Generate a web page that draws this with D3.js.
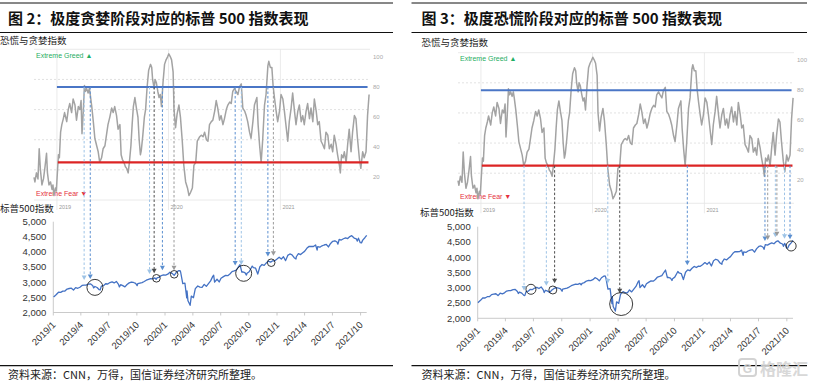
<!DOCTYPE html>
<html>
<head>
<meta charset="utf-8">
<script src="https://cdn.jsdelivr.net/npm/d3@7"></script>
<style>
body { margin: 0; background: #fff; }
svg text { font-family: "Liberation Sans", Arial, sans-serif; }
svg text.cjk { font-family: "Noto Sans CJK SC", "Noto Sans", sans-serif; }
</style>
</head>
<body>
<div id="chart"></div>
<script>
// CNN fear & greed index
var fearGreed = [
["2018-10-18",15],["2018-10-21",12],["2018-10-26",18],["2018-10-31",14],["2018-11-04",34],["2018-11-08",20],["2018-11-13",10],["2018-11-18",14],["2018-11-23",22],["2018-11-28",31],["2018-12-01",18],["2018-12-06",10],["2018-12-11",12],["2018-12-16",7],["2018-12-19",10],["2018-12-22",3],["2018-12-27",8],["2018-12-30",6],
["2019-01-03",20],["2019-01-06",30],["2019-01-09",28],["2019-01-13",45],["2019-01-17",50],["2019-01-22",54],["2019-01-26",58],["2019-02-02",52],["2019-02-07",60],["2019-02-12",64],["2019-02-18",58],["2019-02-23",67],["2019-03-01",63],["2019-03-06",53],["2019-03-12",62],["2019-03-17",60],["2019-03-21",66],["2019-03-24",44],["2019-03-28",58],["2019-04-01",76],["2019-04-04",72],["2019-04-08",74],["2019-04-13",71],["2019-04-17",74],["2019-04-20",70],["2019-04-25",62],["2019-04-30",52],["2019-05-05",41],["2019-05-11",36],["2019-05-16",32],["2019-05-21",25],["2019-05-27",28],["2019-06-01",34],["2019-06-07",36],["2019-06-12",43],["2019-06-17",50],["2019-06-23",55],["2019-06-29",61],["2019-07-04",58],["2019-07-09",62],["2019-07-15",56],["2019-07-20",47],["2019-07-26",50],["2019-07-30",30],["2019-08-03",27],["2019-08-08",25],["2019-08-13",22],["2019-08-17",21],["2019-08-22",18],["2019-08-26",25],["2019-08-31",36],["2019-09-04",50],["2019-09-08",62],["2019-09-13",68],["2019-09-18",61],["2019-09-23",55],["2019-09-27",40],["2019-10-01",30],["2019-10-04",33],["2019-10-09",43],["2019-10-14",55],["2019-10-18",60],["2019-10-23",75],["2019-10-28",86],["2019-11-03",90],["2019-11-07",88],["2019-11-10",80],["2019-11-15",74],["2019-11-18",80],["2019-11-22",78],["2019-11-27",72],["2019-12-01",68],["2019-12-05",70],["2019-12-09",62],["2019-12-14",78],["2019-12-19",90],["2019-12-24",93],["2019-12-29",95],
["2020-01-02",97],["2020-01-07",95],["2020-01-11",93],["2020-01-16",85],["2020-01-19",60],["2020-01-24",48],["2020-01-29",57],["2020-02-04",63],["2020-02-09",55],["2020-02-15",39],["2020-02-20",23],["2020-02-26",12],["2020-03-03",8],["2020-03-08",3],["2020-03-13",5],["2020-03-19",8],["2020-03-24",23],["2020-03-30",25],["2020-04-04",39],["2020-04-12",42],["2020-04-17",43],["2020-04-23",42],["2020-04-28",45],["2020-05-04",40],["2020-05-09",39],["2020-05-14",50],["2020-05-20",52],["2020-05-25",53],["2020-05-31",59],["2020-06-05",66],["2020-06-10",61],["2020-06-16",53],["2020-06-21",56],["2020-06-27",50],["2020-07-02",54],["2020-07-08",60],["2020-07-13",63],["2020-07-19",65],["2020-07-24",64],["2020-07-29",72],["2020-08-04",74],["2020-08-09",72],["2020-08-15",70],["2020-08-20",75],["2020-08-26",77],["2020-08-31",61],["2020-09-06",59],["2020-09-11",56],["2020-09-16",52],["2020-09-22",45],["2020-09-27",41],["2020-10-03",52],["2020-10-08",63],["2020-10-16",68],["2020-10-20",50],["2020-10-25",36],["2020-10-30",25],["2020-11-04",40],["2020-11-10",63],["2020-11-15",70],["2020-11-21",89],["2020-11-24",92],["2020-11-29",88],["2020-12-04",88],["2020-12-08",76],["2020-12-13",67],["2020-12-18",59],["2020-12-23",52],["2020-12-29",59],
["2021-01-03",70],["2021-01-09",67],["2021-01-14",59],["2021-01-20",48],["2021-01-25",39],["2021-01-30",52],["2021-02-05",61],["2021-02-10",71],["2021-02-16",59],["2021-02-21",50],["2021-02-27",59],["2021-03-04",63],["2021-03-10",52],["2021-03-15",56],["2021-03-20",50],["2021-03-26",59],["2021-03-31",64],["2021-04-06",54],["2021-04-11",61],["2021-04-17",52],["2021-04-22",67],["2021-04-28",59],["2021-05-03",50],["2021-05-08",52],["2021-05-14",39],["2021-05-19",37],["2021-05-25",34],["2021-05-30",45],["2021-06-05",43],["2021-06-10",34],["2021-06-16",37],["2021-06-21",32],["2021-06-26",43],["2021-07-02",37],["2021-07-07",30],["2021-07-13",23],["2021-07-16",18],["2021-07-20",30],["2021-07-25",28],["2021-07-29",32],["2021-08-04",25],["2021-08-09",37],["2021-08-14",47],["2021-08-20",32],["2021-08-25",45],["2021-08-31",56],["2021-09-05",54],["2021-09-10",41],["2021-09-16",28],["2021-09-21",21],["2021-09-27",32],["2021-10-02",28],["2021-10-08",32],["2021-10-13",56],["2021-10-18",70]
];

// S&P 500 close
var sp500 = [
["2019-01-02",2510],["2019-01-04",2532],["2019-01-11",2596],["2019-01-18",2671],["2019-01-25",2665],["2019-02-01",2707],["2019-02-08",2708],["2019-02-15",2776],["2019-02-22",2793],["2019-03-01",2804],["2019-03-08",2743],["2019-03-15",2822],["2019-03-22",2800],["2019-03-29",2834],["2019-04-05",2893],["2019-04-12",2907],["2019-04-18",2905],["2019-04-26",2940],["2019-05-03",2946],["2019-05-10",2881],["2019-05-13",2812],["2019-05-17",2860],["2019-05-24",2826],["2019-05-31",2752],["2019-06-03",2744],["2019-06-07",2873],["2019-06-14",2887],["2019-06-21",2950],["2019-06-28",2942],["2019-07-05",2990],["2019-07-12",3014],["2019-07-19",2977],["2019-07-26",3026],["2019-08-02",2932],["2019-08-05",2844],["2019-08-09",2919],["2019-08-16",2889],["2019-08-23",2847],["2019-08-30",2926],["2019-09-06",2979],["2019-09-13",3007],["2019-09-20",2992],["2019-09-27",2962],["2019-10-02",2887],["2019-10-04",2952],["2019-10-11",2970],["2019-10-18",2986],["2019-10-25",3023],["2019-11-01",3067],["2019-11-08",3093],["2019-11-15",3120],["2019-11-22",3110],["2019-11-29",3141],["2019-12-03",3093],["2019-12-06",3146],["2019-12-13",3169],["2019-12-20",3221],["2019-12-27",3240],
["2020-01-03",3235],["2020-01-10",3265],["2020-01-17",3330],["2020-01-24",3295],["2020-01-31",3226],["2020-02-07",3328],["2020-02-14",3380],["2020-02-19",3386],["2020-02-21",3338],["2020-02-28",2954],["2020-03-06",2972],["2020-03-12",2481],["2020-03-13",2711],["2020-03-16",2386],["2020-03-20",2305],["2020-03-23",2237],["2020-03-27",2541],["2020-04-03",2489],["2020-04-09",2790],["2020-04-17",2875],["2020-04-24",2837],["2020-05-01",2831],["2020-05-08",2930],["2020-05-15",2864],["2020-05-22",2955],["2020-05-29",3044],["2020-06-05",3194],["2020-06-08",3232],["2020-06-11",3002],["2020-06-19",3098],["2020-06-26",3009],["2020-07-02",3130],["2020-07-10",3185],["2020-07-17",3225],["2020-07-24",3216],["2020-07-31",3271],["2020-08-07",3351],["2020-08-14",3373],["2020-08-21",3397],["2020-08-28",3508],["2020-09-02",3580],["2020-09-08",3332],["2020-09-11",3341],["2020-09-18",3319],["2020-09-23",3237],["2020-09-25",3298],["2020-10-02",3348],["2020-10-09",3477],["2020-10-12",3534],["2020-10-16",3484],["2020-10-23",3465],["2020-10-30",3270],["2020-11-06",3510],["2020-11-13",3585],["2020-11-20",3558],["2020-11-27",3638],["2020-12-04",3699],["2020-12-11",3663],["2020-12-18",3709],["2020-12-24",3703],["2020-12-31",3756],
["2021-01-08",3825],["2021-01-15",3768],["2021-01-22",3841],["2021-01-29",3714],["2021-02-05",3887],["2021-02-12",3934],["2021-02-19",3907],["2021-02-26",3811],["2021-03-04",3768],["2021-03-05",3842],["2021-03-12",3943],["2021-03-19",3913],["2021-03-26",3975],["2021-04-01",4020],["2021-04-09",4129],["2021-04-16",4185],["2021-04-23",4180],["2021-04-30",4181],["2021-05-07",4233],["2021-05-12",4063],["2021-05-14",4174],["2021-05-21",4156],["2021-05-28",4204],["2021-06-04",4230],["2021-06-11",4247],["2021-06-18",4166],["2021-06-25",4281],["2021-07-02",4352],["2021-07-09",4370],["2021-07-16",4327],["2021-07-19",4258],["2021-07-23",4412],["2021-07-30",4395],["2021-08-06",4437],["2021-08-13",4468],["2021-08-20",4442],["2021-08-27",4509],["2021-09-02",4537],["2021-09-10",4459],["2021-09-17",4433],["2021-09-20",4358],["2021-09-24",4455],["2021-09-30",4308],["2021-10-04",4300],["2021-10-08",4391],["2021-10-15",4471],["2021-10-21",4549]
];

var fgTicks = [20, 40, 60, 80, 100];
var fgGrid = [0, 20, 40, 60, 80, 100];
var yearTicks = ["2019", "2020", "2021"];
var spTicks = [2000, 2500, 3000, 3500, 4000, 4500, 5000];
var quarterTicks = ["2019-01-01","2019-04-01","2019-07-01","2019-10-01","2020-01-01","2020-04-01","2020-07-01","2020-10-01","2021-01-01","2021-04-01","2021-07-01","2021-10-01"];

var greedLevel = 75, fearLevel = 25;

// marked days: dashed arrows from the index down to the S&P line
var greedArrows = [
["2019-03-31","light"],["2019-04-20","blue"],["2019-10-31","light"],["2019-11-15","dark"],["2019-12-12","blue"],
["2020-01-19","gray"],["2020-08-06","blue"],["2020-08-26","light"],["2020-11-21","blue"],["2020-12-09","gray"]
];
var fearArrows = [
["2019-05-22","light"],["2019-08-03","light"],["2019-08-30","dark"],["2020-02-20","light"],["2020-03-30","dark"],
["2020-11-06","blue"],["2021-07-18","blue"],["2021-07-27","gray"],["2021-08-21","light"],["2021-08-26","gray"],
["2021-09-20","light"],["2021-10-08","blue"]
];
// circled spots on the S&P line: date, index level, radius
var greedCircles = [["2019-05-17",2830,8],["2019-12-04",3130,3.8],["2020-01-31",3262,3.8],["2020-09-14",3295,8],["2020-12-13",3645,3.8]];
var fearCircles = [["2019-06-23",2950,5],["2019-09-02",2927,4],["2020-04-11",2468,11.5],["2021-10-15",4368,5]];

var arrowColor = { light: "#9dc3e6", blue: "#5b8fd0", dark: "#4d4d4d", gray: "#9a9a9a" };

var panels = [
  { title: "图 2：极度贪婪阶段对应的标普 500 指数表现", rule: [0, 393], titleX: 8, subY: 44, subX: 0,
    fgX: [34, 370], fgY: [200, 49.3], spX: [53.3, 366.7], spY: [312.5, 221.7], spLabelX: 0, spLabelY: 212,
    level: greedLevel, arrows: greedArrows, circles: greedCircles, sourceX: 8 },
  { title: "图 3：极度恐慌阶段对应的标普 500 指数表现", rule: [411.5, 807], titleX: 421.5, subY: 45.5, subX: 421.5,
    fgX: [458, 794], fgY: [203.3, 52.7], spX: [477.7, 793], spY: [318.3, 226.7], spLabelX: 420, spLabelY: 216,
    level: fearLevel, arrows: fearArrows, circles: fearCircles, sourceX: 421.5 }
];

var parse = d3.timeParse("%Y-%m-%d");
var fmtQ = d3.timeFormat("%Y/%-m");
var fmtN = d3.format(",");
var fgData = fearGreed.map(function(d) { return { date: parse(d[0]), value: d[1] }; });
var spData = sp500.map(function(d) { return { date: parse(d[0]), value: d[1] }; });
var bisect = d3.bisector(function(d) { return d.date; }).left;

function spAt(date) {
  var i = bisect(spData, date);
  if (i <= 0) return spData[0].value;
  if (i >= spData.length) return spData[spData.length - 1].value;
  var a = spData[i - 1], b = spData[i];
  var t = (date - a.date) / (b.date - a.date);
  return a.value + t * (b.value - a.value);
}

var svg = d3.select("#chart").append("svg")
  .attr("width", 813).attr("height", 386);

panels.forEach(drawPanel);

function drawPanel(p) {
  var g = svg.append("g");

  // title block
  [3, 32.5, 365.7].forEach(function(y, i) {
    g.append("line")
      .attr("x1", p.rule[0]).attr("x2", p.rule[1])
      .attr("y1", y).attr("y2", y)
      .attr("stroke", "#111").attr("stroke-width", i == 2 ? 1.3 : 1);
  });
  g.append("text").attr("class", "cjk")
    .attr("x", p.titleX).attr("y", 23.5)
    .style("font-size", "15px").style("font-weight", "bold").attr("fill", "#111")
    .text(p.title);
  g.append("text").attr("class", "cjk")
    .attr("x", p.subX).attr("y", p.subY)
    .style("font-size", "9.5px").attr("fill", "#222")
    .text("恐慌与贪婪指数");

  // ---- fear & greed chart
  var fx = d3.scaleTime()
    .domain([parse("2018-10-18"), parse("2021-10-21")])
    .range(p.fgX);
  var fy = d3.scaleLinear().domain([0, 100]).range(p.fgY);

  yearTicks.forEach(function(yr) {
    var x = fx(parse(yr + "-01-01"));
    g.append("line")
      .attr("x1", x).attr("x2", x).attr("y1", fy(100)).attr("y2", fy(0) + 10)
      .attr("stroke", "#e6e6e6").attr("stroke-width", 0.8);
    g.append("text")
      .attr("x", x + 2).attr("y", fy(0) + 8.5)
      .style("font-size", "5.5px").attr("fill", "#999")
      .text(yr);
  });

  g.selectAll(".fggrid").data(fgGrid).enter().append("line")
    .attr("x1", p.fgX[0]).attr("x2", p.fgX[1])
    .attr("y1", function(d) { return fy(d); }).attr("y2", function(d) { return fy(d); })
    .attr("stroke", function(d) { return d % 100 == 0 ? "#e4e4e4" : "#dadada"; })
    .attr("stroke-width", 0.8)
    .attr("stroke-dasharray", function(d) { return d % 100 == 0 ? null : "2,2"; });

  g.selectAll(".fgtick").data(fgTicks).enter().append("text")
    .attr("x", p.fgX[1] + 3).attr("y", function(d) { return fy(d) + 9.3; })
    .style("font-size", "6px").attr("fill", "#aaa")
    .text(function(d) { return d; });

  g.append("text")
    .attr("x", p.fgX[0] + 2).attr("y", fy(100) + 8.5)
    .style("font-size", "7px").attr("fill", "#1fae63")
    .text("Extreme Greed \u25B2");
  g.append("text")
    .attr("x", p.fgX[0] + 2).attr("y", fy(0) - 4.5)
    .style("font-size", "7px").attr("fill", "#e5323e")
    .text("Extreme Fear \u25BC");

  g.append("path").datum(fgData)
    .attr("fill", "none").attr("stroke", "#a3a3a3").attr("stroke-width", 1.5)
    .attr("stroke-linejoin", "round")
    .attr("d", d3.line()
      .x(function(d) { return fx(d.date); })
      .y(function(d) { return fy(d.value); }));

  g.append("line")
    .attr("x1", fx(parse("2019-01-01"))).attr("x2", fx(parse("2021-10-13")))
    .attr("y1", fy(greedLevel)).attr("y2", fy(greedLevel))
    .attr("stroke", "#4a76c6").attr("stroke-width", 2);
  g.append("line")
    .attr("x1", fx(parse("2019-01-04"))).attr("x2", fx(parse("2021-10-16")))
    .attr("y1", fy(fearLevel)).attr("y2", fy(fearLevel))
    .attr("stroke", "#dc2424").attr("stroke-width", 2.3);

  // ---- S&P 500 chart
  var sx = d3.scaleTime()
    .domain([parse("2019-01-01"), parse("2021-10-21")])
    .range(p.spX);
  var sy = d3.scaleLinear().domain([2000, 5000]).range(p.spY);

  g.append("text").attr("class", "cjk")
    .attr("x", p.spLabelX).attr("y", p.spLabelY)
    .style("font-size", "9.5px").attr("fill", "#222")
    .text("标普500指数");

  g.append("line")
    .attr("x1", p.spX[0]).attr("x2", p.spX[0]).attr("y1", sy(5000)).attr("y2", sy(2000))
    .attr("stroke", "#bdbdbd").attr("stroke-width", 0.8);
  g.append("line")
    .attr("x1", p.spX[0]).attr("x2", p.spX[1]).attr("y1", sy(2000)).attr("y2", sy(2000))
    .attr("stroke", "#bdbdbd").attr("stroke-width", 0.8);

  g.selectAll(".sptick").data(spTicks).enter().append("text")
    .attr("x", p.spX[0] - 7).attr("y", function(d) { return sy(d); })
    .attr("dy", "0.35em").attr("text-anchor", "end")
    .style("font-size", "9.5px").attr("fill", "#333")
    .text(function(d) { return fmtN(d); });

  quarterTicks.forEach(function(q) {
    var d = parse(q), x = sx(d);
    g.append("line")
      .attr("x1", x).attr("x2", x).attr("y1", sy(2000)).attr("y2", sy(2000) + 3)
      .attr("stroke", "#bdbdbd").attr("stroke-width", 0.8);
    g.append("text")
      .attr("transform", "translate(" + (x + 3) + "," + (sy(2000) + 13) + ") rotate(-45)")
      .attr("text-anchor", "end")
      .style("font-size", "9.5px").attr("fill", "#333")
      .text(fmtQ(d));
  });

  g.append("path").datum(spData)
    .attr("fill", "none").attr("stroke", "#4472c4").attr("stroke-width", 1.3)
    .attr("stroke-linejoin", "round")
    .attr("d", d3.line()
      .x(function(d) { return sx(d.date); })
      .y(function(d) { return sy(d.value); }));

  // ---- arrows from the index threshold down to the S&P line
  p.arrows.forEach(function(a) {
    var x = fx(parse(a[0]));
    var tip = sy(spAt(sx.invert(x))) - 5;
    var c = arrowColor[a[1]];
    g.append("line")
      .attr("x1", x).attr("x2", x).attr("y1", fy(p.level)).attr("y2", tip - 4)
      .attr("stroke", c).attr("stroke-width", 1).attr("stroke-dasharray", "2.5,2");
    g.append("path")
      .attr("d", "M" + (x - 2.5) + "," + (tip - 4.5) + "L" + (x + 2.5) + "," + (tip - 4.5) + "L" + x + "," + tip + "Z")
      .attr("fill", c);
  });

  p.circles.forEach(function(c) {
    g.append("circle")
      .attr("cx", sx(parse(c[0]))).attr("cy", sy(c[1])).attr("r", c[2])
      .attr("fill", "none").attr("stroke", "#222").attr("stroke-width", 0.9);
  });

  g.append("text").attr("class", "cjk")
    .attr("x", p.sourceX).attr("y", 379)
    .style("font-size", "11px").attr("fill", "#222")
    .text("资料来源：CNN，万得，国信证券经济研究所整理。");
}

// watermark, bottom right
var wm = svg.append("g").attr("opacity", 0.9);
wm.append("rect").attr("x", 739).attr("y", 359).attr("width", 17).attr("height", 17).attr("rx", 3)
  .attr("fill", "none").attr("stroke", "#cfcfcf").attr("stroke-width", 2);
wm.append("text").attr("x", 747.5).attr("y", 372.5).attr("text-anchor", "middle")
  .style("font-size", "12px").style("font-weight", "bold").attr("fill", "#cfcfcf").text("G");
wm.append("text").attr("class", "cjk").attr("x", 760).attr("y", 375)
  .style("font-size", "16px").style("font-weight", "bold").attr("fill", "#d4d4d4").text("格隆汇");
</script>
</body>
</html>
